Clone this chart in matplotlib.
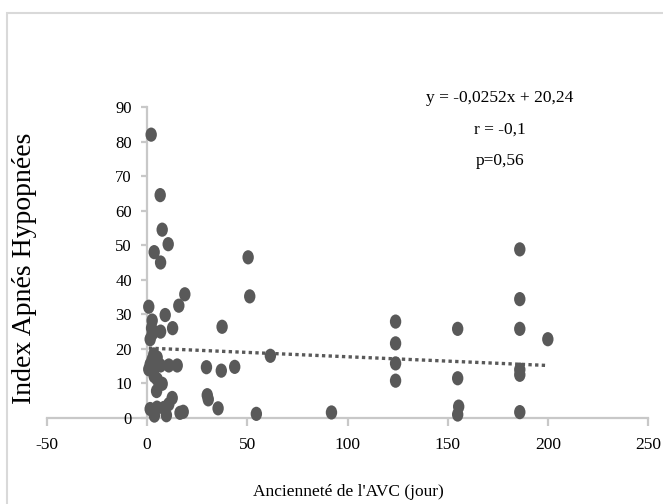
import numpy as np
import matplotlib
matplotlib.use("Agg")
import matplotlib.pyplot as plt
from matplotlib.markers import MarkerStyle
from matplotlib.transforms import Affine2D
from matplotlib.patches import Rectangle

plt.rcParams['font.family'] = ['Liberation Serif', 'DejaVu Serif']

# Data: days since stroke (x) vs apnea-hypopnea index (y)
anciennete = [2, 6.5, 7.5, 10.5, 3.5, 6.7, 18.8, 15.8, 0.8, 9, 2.5, 12.7, 6.7, 2.2,
              2.5, 1.5, 3.3, 5, 2.5, 1.5, 4, 6.7, 10.8, 15, 0.8, 3.5, 5, 7.5, 4.7,
              12.5, 10.8, 1.5, 4.9, 8.3, 3.6, 9.6, 16.4, 18,
              29.6, 37, 43.7, 30, 30.5, 35.4, 37.4, 50.4, 51.2, 61.5, 54.5, 92,
              124, 124, 124, 124, 155, 155, 155.5, 155,
              186, 186, 186, 186, 186, 186, 200]
iah = [82, 64.5, 54.5, 50.3, 48, 45, 35.8, 32.5, 32.2, 29.8, 28.2, 26, 25, 26,
       24.3, 22.8, 18.4, 17.5, 16.9, 15.5, 15, 15.2, 15.2, 15.2, 14.1, 12.1, 11.2, 9.9, 7.8,
       5.8, 4, 2.6, 3, 2.9, 0.7, 0.8, 1.5, 1.8,
       14.7, 13.7, 14.8, 6.6, 5.4, 2.8, 26.4, 46.5, 35.2, 18, 1.2, 1.6,
       27.9, 21.6, 15.8, 10.8, 25.8, 11.5, 3.3, 1.0,
       48.8, 34.4, 25.8, 14, 12.5, 1.7, 22.8]

# Regression reported on the chart
slope = -0.0252
intercept = 20.24
eq_lines = ["y = -0,0252x + 20,24", "r = -0,1", "p=0,56"]

xticks = [-50, 0, 50, 100, 150, 200, 250]
yticks = [0, 10, 20, 30, 40, 50, 60, 70, 80, 90]

W, H = 663, 504
fig = plt.figure(figsize=(W / 100, H / 100), dpi=100)
ax = fig.add_axes([47 / W, 1 - 418 / H, (648 - 47) / W, (418 - 107) / H])

grey = '#595959'
axis_col = '#c8c8c8'

marker = MarkerStyle('o', transform=Affine2D().scale(0.8, 1.0))
ax.scatter(anciennete, iah, s=105, marker=marker, color=grey, edgecolors='none',
           zorder=3, clip_on=False)

xl = np.array([min(anciennete), max(anciennete)])
ax.plot(xl, slope * xl + intercept, linestyle=(0, (1, 1)), color=grey, lw=2.4, zorder=2)

ax.set_xlim(-50, 250)
ax.set_ylim(0, 90)
ax.set_xticks(xticks)
ax.set_yticks(yticks)
ax.set_xticklabels([str(v) for v in xticks])
ax.set_yticklabels([str(v) for v in yticks])

for s in ['top', 'right']:
    ax.spines[s].set_visible(False)
ax.spines['left'].set_position(('data', 0))
ax.spines['bottom'].set_position(('data', 0))
for s in ['left', 'bottom']:
    ax.spines[s].set_color(axis_col)
    ax.spines[s].set_linewidth(1.6)
    ax.spines[s].set_zorder(1)

ax.tick_params(axis='y', direction='out', length=4, width=1.6, color=axis_col,
               labelsize=12, pad=7, labelcolor='black')
ax.tick_params(axis='x', direction='out', length=6, width=1.6, color=axis_col,
               labelsize=12.5, pad=8, labelcolor='black')
ax.patch.set_visible(False)

for i, line in enumerate(eq_lines):
    yp = [98, 130, 161][i]
    fig.text(500 / W, 1 - yp / H, line, ha='center', va='center', fontsize=12.5)

fig.text(348 / W, 1 - 492 / H, "Ancienneté de l'AVC (jour)", ha='center', va='center',
         fontsize=12.5)
fig.text(25 / W, 1 - 268 / H, "Index Apnés Hypopnées", ha='center', va='center',
         rotation=90, fontsize=20)

fig.add_artist(Rectangle((7 / W, -0.1), 1.2, 1.1 - 13 / H + 0.0, transform=fig.transFigure,
                         fill=False, edgecolor='#d9d9d9', lw=1.5))

fig.savefig('out.png', dpi=100)
